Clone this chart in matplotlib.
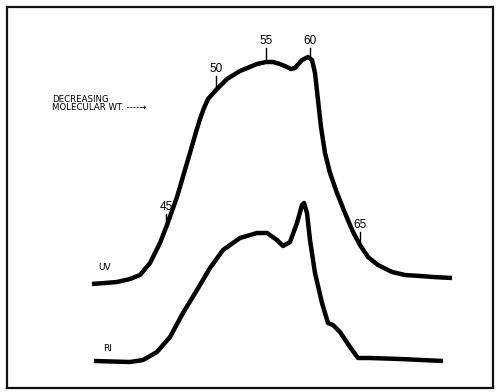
import matplotlib
matplotlib.use("Agg")
import matplotlib.pyplot as plt

# UV trace (x: arbitrary elution units, y: detector response, arbitrary units)
uv_x = [9.2, 10.5, 11.7, 13.0, 14.0, 15.0, 16.0, 16.7, 17.7, 18.7, 19.2, 19.6, 20.0, 20.4,
        20.8, 21.7, 22.7, 24.0, 25.7, 26.6, 27.3, 28.0, 28.7, 29.1, 29.5, 30.2, 30.8, 31.2,
        31.5, 31.8, 32.1, 32.5, 33.0, 33.7, 34.5, 35.3, 36.0, 36.8, 37.8, 39.2, 40.5, 42.0,
        43.3, 45.2]
uv_y = [10.8, 10.9, 11.0, 11.3, 11.7, 12.9, 14.9, 16.7, 19.5, 22.9, 24.6, 26.0, 27.3, 28.4,
        29.3, 30.3, 31.3, 32.1, 32.8, 33.0, 33.0, 32.8, 32.5, 32.3, 32.4, 33.2, 33.5, 33.2,
        31.9, 29.2, 26.5, 23.9, 21.9, 19.9, 17.9, 16.0, 14.7, 13.5, 12.7, 12.0, 11.7, 11.6,
        11.5, 11.4]

# RI trace
ri_x = [9.4, 13.0, 14.3, 15.7, 17.0, 18.3, 19.7, 21.0, 22.3, 24.0, 25.7, 26.7, 27.7, 28.3,
        29.0, 29.7, 30.2, 30.4, 30.7, 31.0, 31.5, 32.2, 32.8, 33.3, 34.0, 35.0, 35.8, 37.0,
        40.0, 44.3]
ri_y = [3.1, 3.0, 3.2, 4.0, 5.5, 7.9, 10.2, 12.4, 14.2, 15.4, 15.9, 15.9, 15.2, 14.6,
        15.0, 16.9, 18.7, 18.9, 17.9, 15.2, 11.9, 8.9, 6.9, 6.7, 6.0, 4.5, 3.4, 3.4,
        3.3, 3.1]

# Elution markers placed on the UV trace
mark_labels = ["45", "50", "55", "60", "65"]
mark_x = [16.6, 21.6, 26.6, 31.0, 36.0]
mark_y = [16.6, 30.2, 33.0, 33.5, 14.7]

fig = plt.figure(figsize=(4.96, 3.92), dpi=100)
ax = fig.add_axes([7 / 496, 4 / 392, 486 / 496, 381 / 392])
ax.set_xlim(0.7, 49.3)
ax.set_ylim(0.4, 38.5)
ax.set_xticks([])
ax.set_yticks([])
for s in ax.spines.values():
    s.set_linewidth(1.6)
    s.set_color("#111111")

ax.plot(uv_x, uv_y, color="black", lw=3.2, solid_capstyle="butt", solid_joinstyle="round")
ax.plot(ri_x, ri_y, color="black", lw=3.2, solid_capstyle="butt", solid_joinstyle="round")

tick_len = [1.2, 1.4, 1.4, 0.9, 1.3]
for lab, mx, my, tl in zip(mark_labels, mark_x, mark_y, tick_len):
    ax.plot([mx, mx], [my, my + tl], color="black", lw=1.0)
    ax.text(mx, my + tl + 0.15, lab, ha="center", va="bottom", fontsize=8.5,
            family=["Liberation Sans", "DejaVu Sans"])

narrow = ["Liberation Sans Narrow", "DejaVu Sans"]
ax.text(9.8, 12.0, "UV", fontsize=6.5, family=narrow, ha="left", va="bottom")
ax.text(10.3, 3.9, "RI", fontsize=6.5, family=narrow, ha="left", va="bottom")
ax.text(5.2, 28.0, "DECREASING\nMOLECULAR WT. ----\u2192", fontsize=6.2, family=narrow,
        ha="left", va="bottom", linespacing=0.8)

fig.savefig("out.png", dpi=100)
